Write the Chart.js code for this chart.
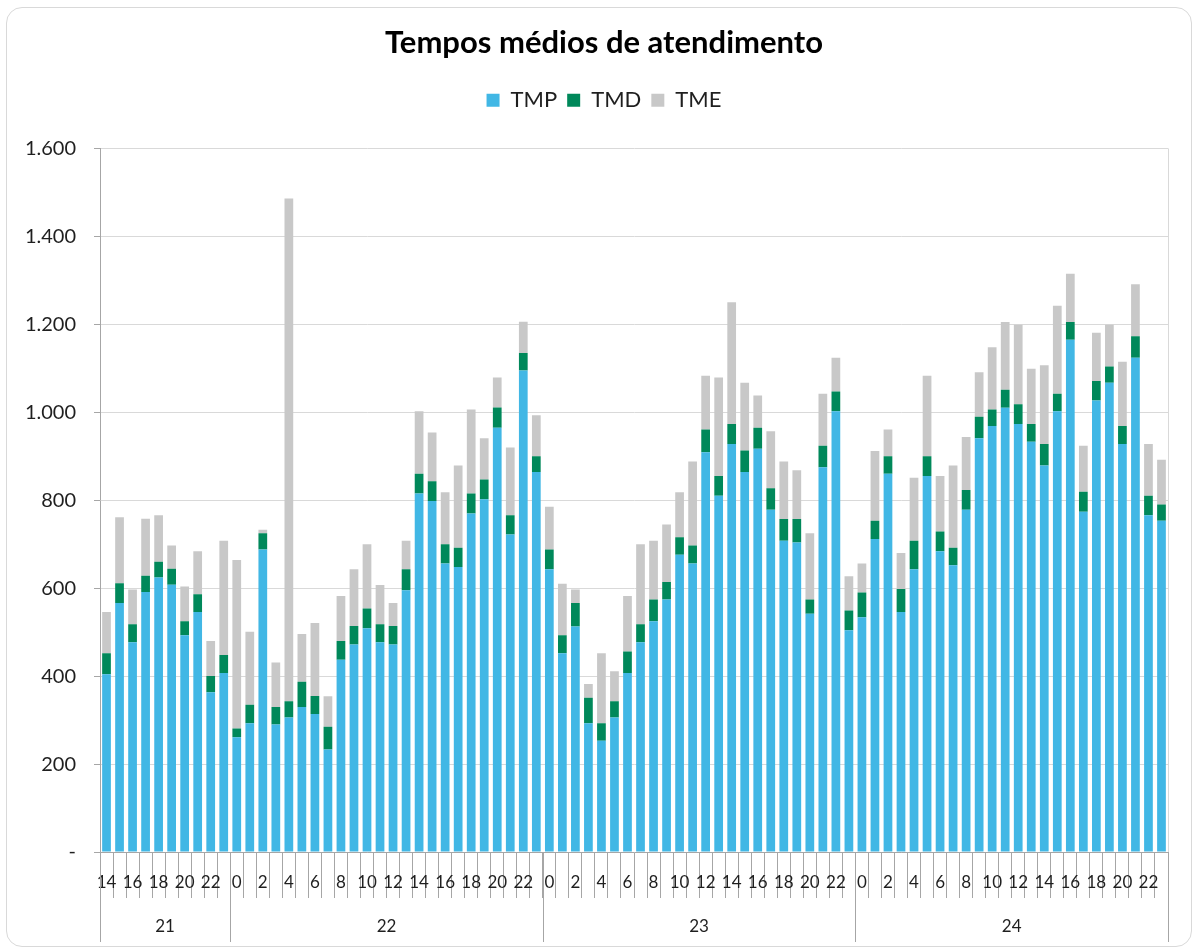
<!DOCTYPE html>
<html>
<head>
<meta charset="utf-8">
<script src="https://cdn.jsdelivr.net/npm/chart.js@4"></script>
<style>
  html, body { margin: 0; padding: 0; background: #ffffff; }
  #card { position: absolute; left: 6px; top: 7px; width: 1184px; height: 938px;
          border: 1px solid #d9d9d9; border-radius: 16px; background: #fff; }
  #c { position: absolute; left: 0; top: 0; }
</style>
</head>
<body>
<div id="card"></div>
<canvas id="c" width="1196" height="949"></canvas>
<script>
// ---- data ----
const hourLabels = [
  14,15,16,17,18,19,20,21,22,23,
  0,1,2,3,4,5,6,7,8,9,10,11,12,13,14,15,16,17,18,19,20,21,22,23,
  0,1,2,3,4,5,6,7,8,9,10,11,12,13,14,15,16,17,18,19,20,21,22,23,
  0,1,2,3,4,5,6,7,8,9,10,11,12,13,14,15,16,17,18,19,20,21,22,23
];
const dayNames = ['21', '22', '23', '24'];
const dayBarCounts = [10, 24, 24, 24];

const TMP = [
  404,566,477,591,624,608,493,546,363,407,
  261,293,688,290,306,330,314,233,437,472,509,477,472,595,815,798,656,648,770,802,965,722,1095,864,
  643,452,513,293,253,306,407,477,525,574,676,656,909,810,928,864,917,778,708,704,542,875,1002,504,
  534,712,860,546,643,855,684,652,778,941,969,1010,973,933,879,1002,1165,774,1027,1067,928,1124,766,753
];
const TMD = [
  48,45,41,37,36,36,32,40,37,41,
  20,42,37,40,37,57,41,52,43,42,45,41,42,48,45,45,44,44,45,45,46,44,40,36,
  45,41,53,58,40,37,49,41,49,40,40,41,52,45,45,49,48,49,49,53,32,49,45,45,
  56,41,40,52,65,45,45,40,45,49,37,41,45,40,49,40,40,45,44,37,41,49,44,37
];
const TME = [
  94,150,79,130,106,53,79,98,80,260,
  383,166,8,101,1143,109,166,69,102,129,146,89,52,65,142,111,118,187,191,94,68,154,71,93,
  97,117,31,31,159,68,126,182,134,131,102,191,122,224,277,154,73,130,131,111,151,118,77,78,
  66,159,61,82,143,183,126,187,121,101,142,154,181,126,179,200,110,105,110,95,146,118,118,102
];
const yTicks = [0, 200, 400, 600, 800, 1000, 1200, 1400, 1600];

// ---- styling ----
const FONT = 'Lato, "Liberation Sans", sans-serif';
const TXT = '#1f1f1f';

function fmtThousands(v) {
  if (v === 0) return '-';
  return String(v).replace(/\B(?=(\d{3})+(?!\d))/g, '.');
}

// centre title and legend like the reference (slightly right of the chart box centre)
const headerShiftPlugin = {
  id: 'headerShift',
  afterLayout(chart) {
    const shift = 40;
    [chart.titleBlock, chart.legend].forEach(b => { if (b) { b.left += shift; } });
  }
};

const dayAxisPlugin = {
  id: 'dayAxis',
  afterDraw(chart) {
    const ctx = chart.ctx;
    const xs = chart.scales.x;
    const area = chart.chartArea;
    const n = hourLabels.length;
    const step = (xs.getPixelForValue(n - 1) - xs.getPixelForValue(0)) / (n - 1);
    const edge = (i) => xs.getPixelForValue(i) - step / 2;
    ctx.save();
    // right border of plot area
    ctx.strokeStyle = '#d9d9d9';
    ctx.lineWidth = 1;
    ctx.beginPath();
    ctx.moveTo(Math.round(area.right) + 0.5, area.top);
    ctx.lineTo(Math.round(area.right) + 0.5, area.bottom);
    ctx.stroke();
    // day separators and labels
    ctx.strokeStyle = '#a6a6a6';
    ctx.fillStyle = TXT;
    ctx.font = '17px ' + FONT;
    ctx.textAlign = 'center';
    ctx.textBaseline = 'middle';
    let start = 0;
    const bounds = [0];
    dayBarCounts.forEach(c => { start += c; bounds.push(start); });
    bounds.forEach(b => {
      const x = Math.round(edge(b)) + 0.5;
      ctx.beginPath();
      ctx.moveTo(x, area.bottom);
      ctx.lineTo(x, area.bottom + 90);
      ctx.stroke();
    });
    for (let d = 0; d < dayNames.length; d++) {
      const cx = (edge(bounds[d]) + edge(bounds[d + 1])) / 2;
      ctx.fillText(dayNames[d], cx, area.bottom + 75);
    }
    ctx.restore();
  }
};

new Chart(document.getElementById('c'), {
  type: 'bar',
  data: {
    labels: hourLabels.map(String),
    datasets: [
      { label: 'TMP', data: TMP, backgroundColor: '#41b7e5' },
      { label: 'TMD', data: TMD, backgroundColor: '#00885a' },
      { label: 'TME', data: TME, backgroundColor: '#c8c8c8' }
    ]
  },
  options: {
    responsive: false,
    animation: false,
    devicePixelRatio: 1,
    layout: { padding: { left: 0, right: 28, top: 0, bottom: 0 } },
    datasets: { bar: { categoryPercentage: 1.0, barPercentage: 0.67 } },
    plugins: {
      title: {
        display: true,
        text: 'Tempos médios de atendimento',
        color: '#000',
        font: { family: FONT, size: 31, weight: 'bold' },
        padding: { top: 24, bottom: 18 }
      },
      subtitle: {
        display: true,
        text: '',
        position: 'top',
        weight: 500,
        font: { size: 1 },
        padding: { top: 0, bottom: 26 }
      },
      legend: {
        display: true,
        position: 'top',
        labels: {
          color: TXT,
          font: { family: FONT, size: 22 },
          boxWidth: 13,
          boxHeight: 13,
          padding: 10
        }
      },
      tooltip: { enabled: false }
    },
    scales: {
      x: {
        stacked: true,
        grid: { display: true, drawOnChartArea: false, drawTicks: true, tickLength: 46,
                tickColor: '#a6a6a6', offset: true },
        border: { display: true, color: '#a6a6a6' },
        ticks: {
          autoSkip: false, maxRotation: 0, minRotation: 0, padding: -26,
          color: TXT, font: { family: FONT, size: 17 },
          callback: (v, i) => (hourLabels[i] % 2 === 0 ? String(hourLabels[i]) : '')
        },
        afterFit: (s) => { s.height = 97; }
      },
      y: {
        stacked: true,
        min: 0, max: 1600,
        afterBuildTicks: (s) => { s.ticks = yTicks.map(v => ({ value: v })); },
        grid: { color: '#d9d9d9', tickColor: '#a6a6a6', tickLength: 6, drawTicks: true },
        border: { display: true, color: '#a6a6a6' },
        ticks: {
          padding: 18,
          color: TXT,
          font: { family: FONT, size: 20 },
          callback: (v) => fmtThousands(v)
        },
        afterFit: (s) => { s.width = 100; }
      }
    }
  },
  plugins: [headerShiftPlugin, dayAxisPlugin]
});
</script>
</body>
</html>
